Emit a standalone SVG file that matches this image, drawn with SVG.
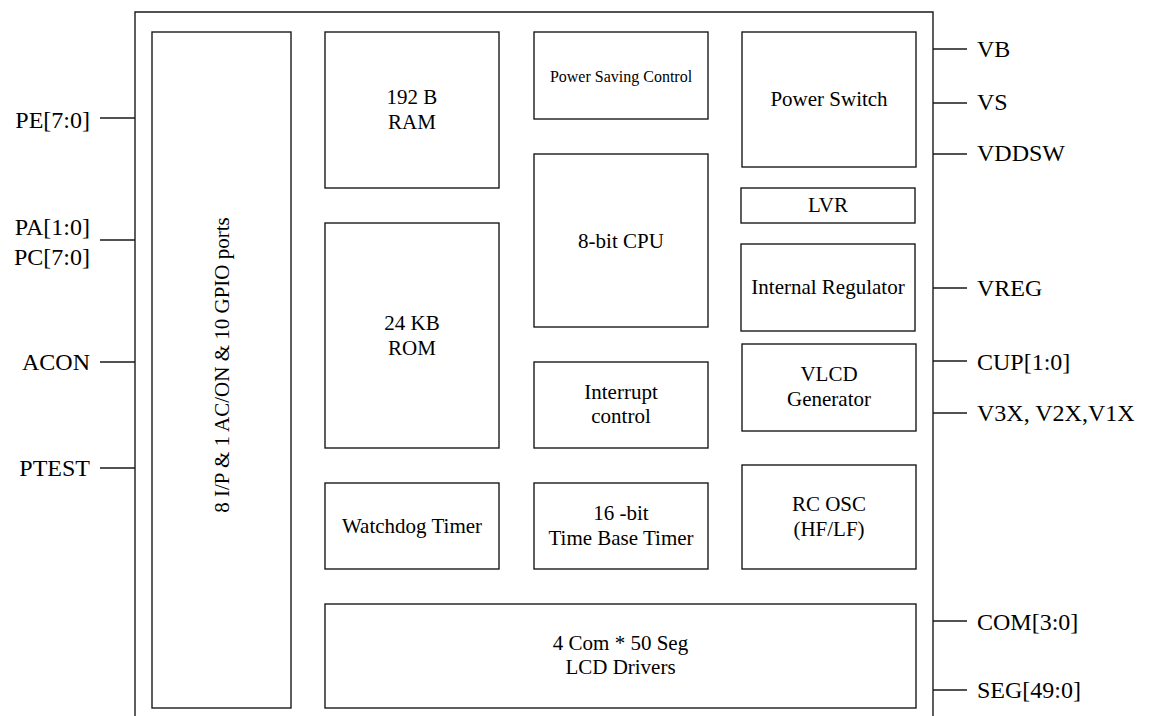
<svg xmlns="http://www.w3.org/2000/svg" width="1150" height="716" viewBox="0 0 1150 716" font-family="'Liberation Serif', 'Times New Roman', Times, serif">
<style>
.box{fill:#fff;stroke:#1a1a1a;stroke-width:1.4}
.ln{stroke:#1a1a1a;stroke-width:1.4;fill:none}
text{font-family:'Liberation Serif','Times New Roman',Times,serif;fill:#000}
.t{font-size:21px;text-anchor:middle}
.s{font-size:16px;text-anchor:middle}
.pl{font-size:24px;text-anchor:end}
.pr{font-size:24px;text-anchor:start}
</style>
<rect width="1150" height="716" fill="#fff"/>
<g id="chip">
<path class="ln" d="M135,720 V12 H933 V720"/>
</g>
<g id="gpio"><rect class="box" x="152" y="32" width="139" height="676"/>
<text class="t" transform="translate(229,365) rotate(-90)">8 I/P &amp; 1 AC/ON &amp; 10 GPIO ports</text></g>
<g id="ram"><rect class="box" x="325" y="32" width="174" height="156"/>
<text class="t" x="412" y="104">192 B</text><text class="t" x="412" y="129">RAM</text></g>
<g id="rom"><rect class="box" x="325" y="223" width="174" height="225"/>
<text class="t" x="412" y="330">24 KB</text><text class="t" x="412" y="355">ROM</text></g>
<g id="psc"><rect class="box" x="534" y="32" width="174" height="87"/>
<text class="s" x="621" y="82">Power Saving Control</text></g>
<g id="cpu"><rect class="box" x="534" y="154" width="174" height="173"/>
<text class="t" x="621" y="248">8-bit CPU</text></g>
<g id="intc"><rect class="box" x="534" y="362" width="174" height="86"/>
<text class="t" x="621" y="399">Interrupt</text><text class="t" x="621" y="423">control</text></g>
<g id="psw"><rect class="box" x="742" y="32" width="174" height="135"/>
<text class="t" x="829" y="106">Power Switch</text></g>
<g id="lvr"><rect class="box" x="741" y="188" width="174" height="35"/>
<text class="t" x="828" y="212">LVR</text></g>
<g id="ireg"><rect class="box" x="741" y="244" width="174" height="87"/>
<text class="t" x="828" y="294">Internal Regulator</text></g>
<g id="vlcd"><rect class="box" x="742" y="344" width="174" height="87"/>
<text class="t" x="829" y="381">VLCD</text><text class="t" x="829" y="406">Generator</text></g>
<g id="rcosc"><rect class="box" x="742" y="465" width="174" height="104"/>
<text class="t" x="829" y="511">RC OSC</text><text class="t" x="829" y="536">(HF/LF)</text></g>
<g id="wdt"><rect class="box" x="325" y="483" width="174" height="86"/>
<text class="t" x="412" y="533">Watchdog Timer</text></g>
<g id="tbt"><rect class="box" x="534" y="483" width="174" height="86"/>
<text class="t" x="621" y="520">16 -bit</text><text class="t" x="621" y="545">Time Base Timer</text></g>
<g id="lcd"><rect class="box" x="325" y="604" width="591" height="104"/>
<text class="t" x="620.5" y="650">4 Com * 50 Seg</text><text class="t" x="620.5" y="674">LCD Drivers</text></g>
<g id="connectors">
<path class="ln" d="M100,118H135 M100,240H135 M100,362H135 M100,468H135"/>
<path class="ln" d="M933,49H967 M933,103H967 M933,154H967 M933,288H967 M933,361H967 M933,413H967 M933,621H967 M933,690H967"/>
</g>
<g id="pins">
<text class="pl" x="90" y="128">PE[7:0]</text>
<text class="pl" x="90" y="235">PA[1:0]</text>
<text class="pl" x="90" y="265">PC[7:0]</text>
<text class="pl" x="90" y="370">ACON</text>
<text class="pl" x="90" y="476">PTEST</text>
<text class="pr" x="977" y="57">VB</text>
<text class="pr" x="977" y="110">VS</text>
<text class="pr" x="977" y="161">VDDSW</text>
<text class="pr" x="977" y="296">VREG</text>
<text class="pr" x="977" y="370">CUP[1:0]</text>
<text class="pr" x="977" y="421">V3X, V2X,V1X</text>
<text class="pr" x="977" y="630">COM[3:0]</text>
<text class="pr" x="977" y="698">SEG[49:0]</text>
</g>
</svg>
